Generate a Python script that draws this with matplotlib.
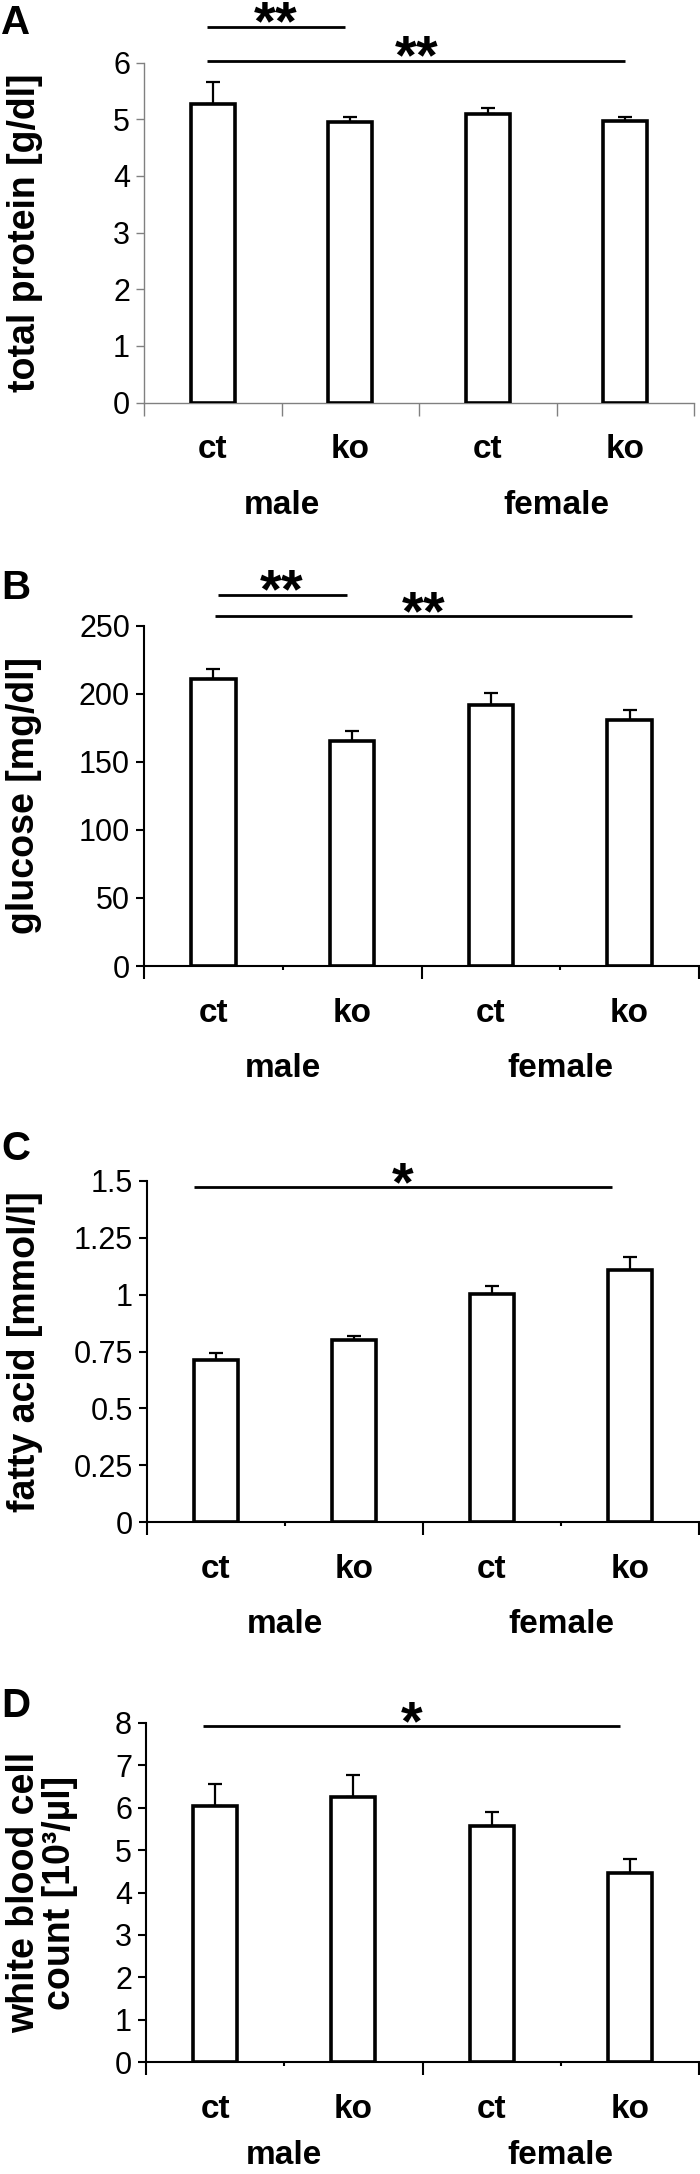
import matplotlib
matplotlib.use("Agg")
import matplotlib.pyplot as plt
import numpy as np

plt.rcParams['font.family'] = ['Liberation Sans', 'DejaVu Sans']
plt.rcParams['mathtext.fontset'] = 'custom'
plt.rcParams['mathtext.rm'] = 'Liberation Sans:bold'

# data
categories = ['ct', 'ko', 'ct', 'ko']
groups = ['male', 'female']

protein = [5.26, 4.95, 5.10, 4.97]
protein_err = [0.39, 0.09, 0.09, 0.07]
glucose = [210.5, 165.5, 191.5, 181.0]
glucose_err = [8.0, 7.5, 9.0, 7.0]
fatty_acid = [0.714, 0.802, 1.005, 1.110]
fatty_acid_err = [0.030, 0.017, 0.033, 0.057]
wbc = [6.04, 6.25, 5.56, 4.45]
wbc_err = [0.53, 0.52, 0.33, 0.33]

# significance bars: (x start, x end, y, number of stars)
sig_A = [(-0.04, 0.96, 6.63, 2), (-0.04, 3.0, 6.03, 2)]
sig_B = [(0.03, 0.96, 272.8, 2), (0.01, 3.02, 257.0, 2)]
sig_C = [(-0.16, 2.87, 1.474, 1)]
sig_D = [(-0.09, 2.93, 7.93, 1)]

W, H = 700, 2174
fig = plt.figure(figsize=(W / 100, H / 100), dpi=100)


def rect(l, t, r, b):  # pixel box -> figure fraction
    return [l / W, 1 - b / H, (r - l) / W, (b - t) / H]


def panel(box, vals, errs, sig, ylim, yticks, ylabel, label_x, letter, letter_y,
          axcolor='black', axlw=1.5, even_ticks=False, group_off=-74):
    ax = fig.add_axes(rect(*box))
    x = np.arange(len(vals))
    ax.bar(x, vals, width=0.32, color='white', edgecolor='black', linewidth=2.6, zorder=3)
    ax.errorbar(x, vals, yerr=[np.zeros(len(vals)), errs], fmt='none', ecolor='black',
                elinewidth=1.6, capsize=5, capthick=1.6, zorder=2)
    ax.set_xlim(-0.5, 3.5)
    ax.set_ylim(*ylim)
    ax.set_yticks(yticks)
    ax.set_yticklabels([f'{v:g}' for v in yticks], fontsize=22)
    for s in ['top', 'right']:
        ax.spines[s].set_visible(False)
    for s in ['left', 'bottom']:
        ax.spines[s].set_color(axcolor)
        ax.spines[s].set_linewidth(axlw)
    ax.tick_params(axis='y', direction='out', length=6, width=axlw, color=axcolor, pad=4)
    # x ticks at group boundaries
    if even_ticks:
        ax.set_xticks([-0.5, 0.5, 1.5, 2.5, 3.5])
        ax.set_xticks([], minor=True)
    else:
        ax.set_xticks([-0.5, 1.5, 3.5])
        ax.set_xticks([0.5, 2.5], minor=True)
    ax.set_xticklabels([])
    ax.tick_params(axis='x', which='major', direction='out', length=9, width=axlw, color=axcolor)
    ax.tick_params(axis='x', which='minor', direction='out', length=3, width=axlw, color=axcolor)

    for i, c in enumerate(categories):
        ax.annotate(c, xy=(i, 0), xycoords=('data', 'axes fraction'), xytext=(0, -34),
                    textcoords='offset points', ha='center', va='center',
                    fontsize=24, fontweight='bold')
    for j, g in enumerate(groups):
        ax.annotate(g, xy=(2 * j + 0.5, 0), xycoords=('data', 'axes fraction'),
                    xytext=(0, group_off), textcoords='offset points', ha='center',
                    va='center', fontsize=24, fontweight='bold')

    for x0, x1, y, n in sig:
        ax.plot([x0, x1], [y, y], color='black', lw=2.0, clip_on=False, solid_capstyle='butt')
        stars = '$' + '{*}' * n + '$'
        ax.annotate(stars, xy=((x0 + x1) / 2, y), xytext=(0, 1.5),
                    textcoords='offset points', ha='center', va='center',
                    fontsize=40, annotation_clip=False)

    ax.set_ylabel(ylabel, fontsize=27, fontweight='bold', multialignment='center',
                  linespacing=1.0)
    ax.yaxis.set_label_coords(label_x, 0.5)
    fig.text(0.002, 1 - letter_y / H, letter, fontsize=29, fontweight='bold', va='baseline')
    return ax


panel((144, 62.5, 694, 402.5), protein, protein_err, sig_A, (0, 6), np.arange(0, 7, 1),
      'total protein [g/dl]', -0.184, 'A', 34, axcolor='#808080', axlw=1.0, even_ticks=True)
panel((144, 625.7, 699, 966), glucose, glucose_err, sig_B, (0, 250), np.arange(0, 251, 50),
      'glucose [mg/dl]', -0.184, 'B', 599)
panel((147, 1181, 699, 1522), fatty_acid, fatty_acid_err, sig_C, (0, 1.5),
      [0, 0.25, 0.5, 0.75, 1.0, 1.25, 1.5], 'fatty acid [mmol/l]', -0.188, 'C', 1160)
panel((146, 1723, 699, 2062), wbc, wbc_err, sig_D, (0, 8), np.arange(0, 9, 1),
      'white blood cell\ncount [10³/µl]', -0.123, 'D', 1717, group_off=-67)

fig.savefig('out.png', dpi=100, facecolor='white')
